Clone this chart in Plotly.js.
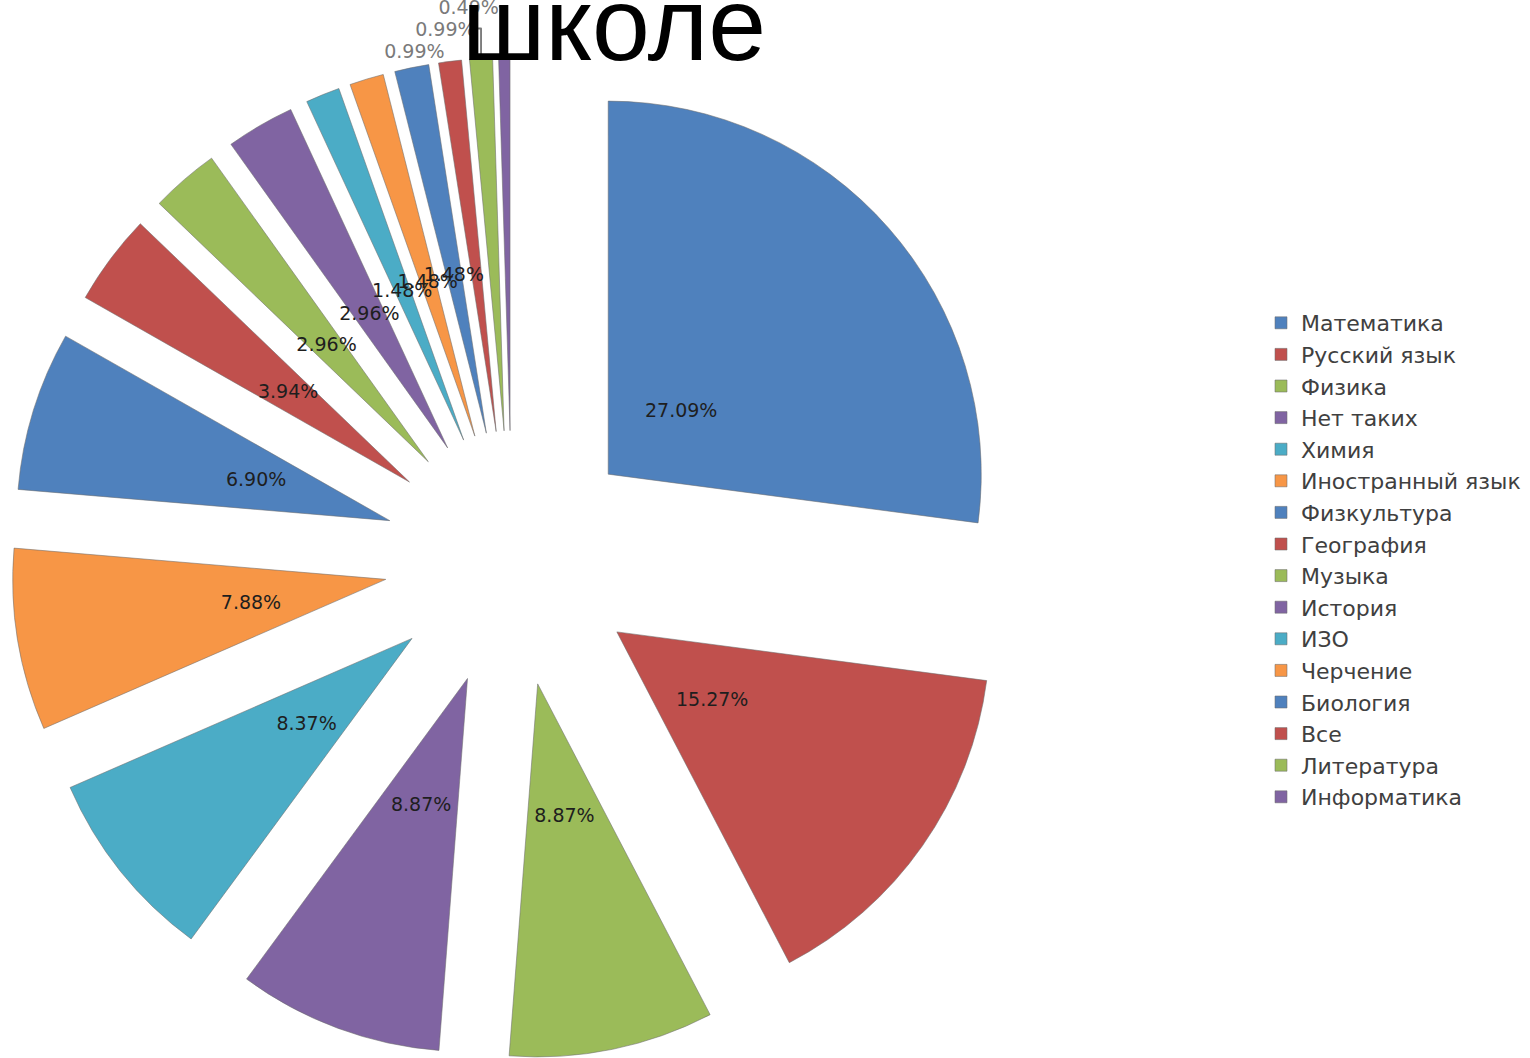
<!DOCTYPE html>
<html><head><meta charset="utf-8">
<script src="https://cdn.plot.ly/plotly-3.0.1.min.js"></script>
<style>html,body{margin:0;padding:0;overflow:hidden;background:#fff}</style>
</head><body><div id="chart" style="width:1530px;height:1100px"></div>
<script>
const subjects = ["Математика","Русский язык","Физика","Нет таких","Химия","Иностранный язык","Физкультура","География","Музыка","История","ИЗО","Черчение","Биология","Все","Литература","Информатика"];
const percents = [27.09,15.27,8.87,8.87,8.37,7.88,6.90,3.94,2.96,2.96,1.48,1.48,1.48,0.99,0.99,0.49];
const palette = ["#4F81BD","#C0504D","#9BBB59","#8064A2","#4BACC6","#F79646"];
const sliceColors = subjects.map((s,i)=>palette[i%palette.length]);
// labels drawn near the slice apex (inside) or beyond the rim (outside)
const outsideLabel = [false,false,false,false,false,false,false,false,false,false,false,false,false,true,true,true];
const titleText = "школе";

// visible pie with slices and legend
const slices = {
  type: "pie",
  labels: subjects,
  values: percents,
  sort: false,
  direction: "clockwise",
  rotation: 0,
  pull: 0.343,
  marker: {colors: sliceColors, line: {color: "rgba(110,110,110,0.55)", width: 1}},
  texttemplate: "%{value:.2f}%",
  textposition: outsideLabel.map(o => o ? "outside" : "none"),
  outsidetextfont: {family: "DejaVu Sans", size: 15, color: "#7a7a7a"},
  hoverinfo: "label+percent",
  domain: {x: [0.0072, 0.6621], y: [0.0368, 0.9477]}
};

// same data again, transparent, only to place the inside percentage labels closer to the apex
const insideLabels = {
  type: "pie",
  labels: subjects,
  values: percents,
  sort: false,
  direction: "clockwise",
  rotation: 0,
  pull: 0.753,
  showlegend: false,
  marker: {colors: subjects.map(() => "rgba(0,0,0,0)"), line: {width: 0}},
  texttemplate: "%{value:.2f}%",
  textposition: outsideLabel.map(o => o ? "none" : "inside"),
  insidetextorientation: "horizontal",
  textfont: {family: "DejaVu Sans", size: 19, color: "#1e1e1e"},
  hoverinfo: "skip",
  domain: {x: [0.13987, 0.52941], y: [0.22136, 0.76318]}
};

const layout = {
  width: 1530, height: 1100,
  margin: {l: 0, r: 0, t: 0, b: 0},
  paper_bgcolor: "#ffffff",
  uniformtext: {mode: "show", minsize: 19},
  title: {text: titleText, font: {family: "Liberation Sans, Arial, sans-serif", size: 104, color: "#000"},
          x: 614/1530, xref: "container", xanchor: "center", y: 1 - 24/1100, yref: "container", yanchor: "middle", pad: {t:0,b:0,l:0,r:0}},
  showlegend: true,
  legend: {x: 1261/1530, xanchor: "left", y: 1 - 302/1100, yanchor: "top",
           font: {family: "DejaVu Sans", size: 22, color: "#404040"}, bgcolor: "rgba(0,0,0,0)", borderwidth: 0}
};

Plotly.newPlot("chart", [slices, insideLabels], layout, {displayModeBar: false, staticPlot: true});
</script></body></html>
